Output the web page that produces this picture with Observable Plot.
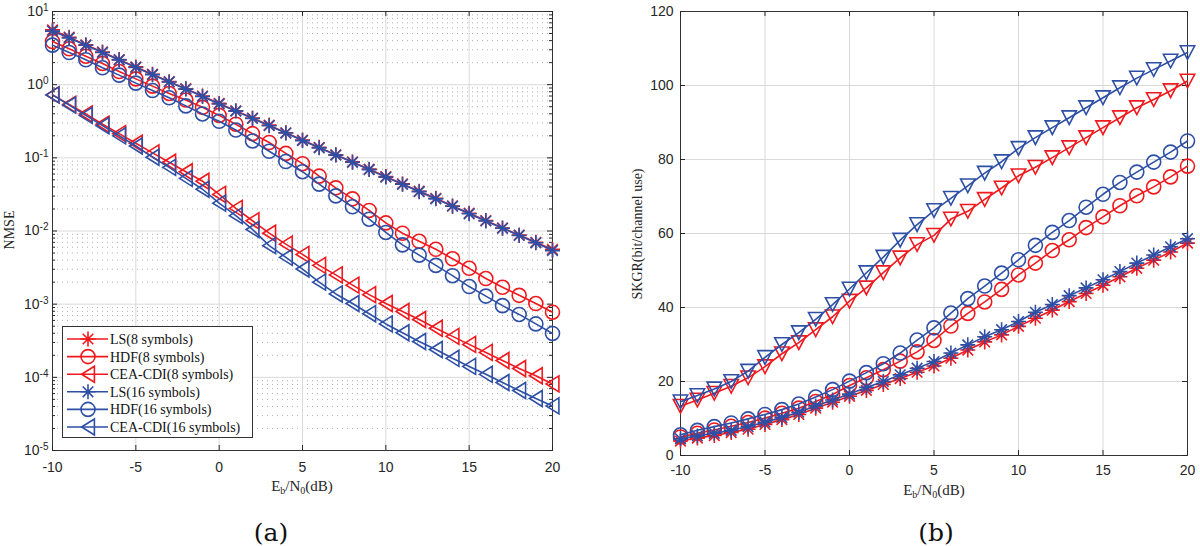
<!DOCTYPE html>
<html><head><meta charset="utf-8">
<script src="https://cdn.jsdelivr.net/npm/d3@7"></script>
<script src="https://cdn.jsdelivr.net/npm/@observablehq/plot@0.6"></script>
<style>
body{margin:0;background:#fff;}
#wrap{position:relative;width:1200px;height:546px;overflow:hidden;background:#fff;font-family:"Liberation Serif","Times New Roman",serif;color:#262626;}
.abs{position:absolute;white-space:nowrap;line-height:1;}
.xl{font-size:15px;transform:translate(-50%,-50%);}
.yl{font-size:14px;transform:translate(-50%,-50%) rotate(-90deg);}
.cap{font-family:"DejaVu Serif",serif;font-size:25px;transform:translate(-50%,-50%);color:#111;}
.xl sub{font-size:10px;vertical-align:-3px;}
</style></head><body>
<div id="wrap">
  <div id="pa" class="abs" style="left:0;top:0"></div>
  <div id="pb" class="abs" style="left:600px;top:0"></div>
  <div class="abs xl" style="left:302px;top:487px">E<sub>b</sub>/N<sub>0</sub>(dB)</div>
  <div class="abs xl" style="left:934px;top:491px">E<sub>b</sub>/N<sub>0</sub>(dB)</div>
  <div class="abs yl" style="left:10px;top:230px">NMSE</div>
  <div class="abs yl" style="left:638px;top:234px">SKGR(bit/channel use)</div>
  <div class="abs cap" style="left:271px;top:532px">(a)</div>
  <div class="abs cap" style="left:936px;top:532px">(b)</div>
</div>
<script>
// ---------------- data ----------------
const ebn0 = [-10,-9,-8,-7,-6,-5,-4,-3,-2,-1,0,1,2,3,4,5,6,7,8,9,10,11,12,13,14,15,16,17,18,19,20];
const xTicks = [-10,-5,0,5,10,15,20];
const nmseTicks = [1e-5,1e-4,1e-3,1e-2,1e-1,1,10];
const skgrTicks = [0,20,40,60,80,100,120];
const seriesLabels = ["LS(8 symbols)","HDF(8 symbols)","CEA-CDI(8 symbols)","LS(16 symbols)","HDF(16 symbols)","CEA-CDI(16 symbols)"];

// (a) NMSE
const nmseLS8 = [5.6,4.45,3.5,2.8,2.2,1.75,1.39,1.1,0.88,0.70,0.555,0.44,0.35,0.28,0.22,0.175,0.139,0.11,0.088,0.07,0.0555,0.044,0.035,0.028,0.022,0.0175,0.0139,0.011,0.0088,0.007,0.0056];
const nmseHDF8 = [3.89,3.09,2.45,1.95,1.51,1.20,0.955,0.759,0.617,0.490,0.380,0.288,0.214,0.162,0.115,0.0832,0.0562,0.0389,0.0275,0.0191,0.0129,0.00933,0.00724,0.00562,0.00417,0.00309,0.00224,0.00170,0.00132,0.00102,0.000776];
const nmseCEA8 = [0.724,0.537,0.398,0.288,0.214,0.158,0.117,0.0871,0.0646,0.0479,0.0316,0.0204,0.0138,0.00933,0.00661,0.00479,0.00339,0.00251,0.00182,0.00135,0.00102,0.000794,0.000617,0.000468,0.000363,0.000282,0.000219,0.000170,0.000132,0.000105,0.0000813];
const nmseLS16 = [5.4,4.35,3.45,2.75,2.18,1.72,1.37,1.09,0.87,0.69,0.545,0.435,0.345,0.275,0.218,0.172,0.137,0.109,0.087,0.069,0.0545,0.0435,0.0345,0.0275,0.0218,0.0172,0.0137,0.0109,0.0087,0.0069,0.0054];
const nmseHDF16 = [3.47,2.75,2.19,1.70,1.35,1.05,0.832,0.661,0.513,0.398,0.316,0.240,0.170,0.123,0.0891,0.0646,0.0437,0.0302,0.0214,0.0145,0.00955,0.00646,0.00468,0.00339,0.00245,0.00174,0.00129,0.000955,0.000724,0.000537,0.000398];
const nmseCEA16 = [0.724,0.525,0.380,0.275,0.200,0.145,0.102,0.0741,0.0525,0.0372,0.0240,0.0162,0.0105,0.00631,0.00437,0.00302,0.00200,0.00138,0.00102,0.000741,0.000537,0.000407,0.000309,0.000240,0.000182,0.000141,0.000110,0.0000851,0.0000661,0.0000513,0.0000407];

// (b) SKGR
const skgrLS8 = [3.9,4.7,5.4,6.2,7.1,8.4,9.7,11.1,12.8,14.4,16.0,17.6,19.2,20.8,22.5,24.2,26.3,28.5,30.7,32.6,34.9,37.1,39.3,41.6,43.8,46.0,48.3,50.6,52.8,55.0,57.4];
const skgrHDF8 = [5.0,6.0,6.9,7.9,8.9,10.1,11.4,12.8,14.6,16.5,18.9,21.0,23.2,25.5,28.0,31.1,35.0,38.4,41.5,44.9,48.8,52.0,55.4,58.3,61.6,64.5,67.5,70.2,72.6,75.3,78.2];
const skgrCEA8 = [13.3,15.0,16.8,18.7,21.0,24.0,27.5,30.5,34.0,37.5,41.7,45.3,49.4,53.4,57.0,59.5,63.9,66.0,69.2,72.3,75.6,77.9,80.5,83.2,85.9,88.6,91.3,94.0,96.2,98.6,101.2];
const skgrLS16 = [4.5,5.3,6.0,6.8,7.8,9.0,10.3,11.7,13.4,15.0,16.6,18.4,20.0,21.8,23.6,25.4,27.7,29.9,32.1,34.0,36.2,38.7,40.8,43.2,45.3,47.5,49.7,52.0,54.2,56.4,58.6];
const skgrHDF16 = [5.6,6.8,7.8,8.8,9.9,11.1,12.4,13.9,15.8,17.8,20.1,22.4,24.8,27.7,31.2,34.5,38.5,42.4,45.8,49.3,52.9,56.8,60.3,63.5,67.1,70.6,73.8,76.6,79.3,82.0,85.0];
const skgrCEA16 = [14.5,16.2,18.0,20.0,22.8,26.5,30.0,33.2,36.8,40.8,45.0,49.4,53.6,58.2,62.4,66.2,69.5,72.9,76.3,79.4,83.0,85.9,88.6,91.3,94.0,96.7,99.4,102.0,104.3,106.6,108.9];

// ---------------- style ----------------
const RED = "#f0191e", BLUE = "#2d4fa5";
const R_STAR = 7.5, R_CIRC = 7, R_TRI = 8;
const SW = 1.6;

// custom MATLAB-like markers
const asterisk = {draw(c, size){ const r = Math.sqrt(size/Math.PI), d = r*Math.SQRT1_2;
  c.moveTo(-r,0); c.lineTo(r,0); c.moveTo(0,-r); c.lineTo(0,r);
  c.moveTo(-d,-d); c.lineTo(d,d); c.moveTo(-d,d); c.lineTo(d,-d); }};
const leftTri = {draw(c, size){ const r = Math.sqrt(size/Math.PI);
  c.moveTo(-0.8*r,0); c.lineTo(0.8*r,-r); c.lineTo(0.8*r,r); c.closePath(); }};
const downTri = {draw(c, size){ const r = Math.sqrt(size/Math.PI);
  c.moveTo(-0.9*r,-0.85*r); c.lineTo(0.9*r,-0.85*r); c.lineTo(0,0.85*r); c.closePath(); }};
const circ = d3.symbolCircle;

function rows(ys){ return ebn0.map((x,i)=>({x, y: ys[i]})); }

function seriesMarks(ys, color, symbol, r){
  const d = rows(ys);
  return [
    Plot.line(d, {x:"x", y:"y", stroke: color, strokeWidth: SW}),
    Plot.dot(d, {x:"x", y:"y", stroke: color, fill: "none", strokeWidth: SW, symbol, r})
  ];
}

function tickMarks(W, H, xt, yt, yMinor){
  const m = [
    Plot.ruleX(xt, {stroke:"#262626", insetTop: H-5}),
    Plot.ruleX(xt, {stroke:"#262626", insetBottom: H-5}),
    Plot.ruleY(yt, {stroke:"#262626", insetRight: W-5}),
    Plot.ruleY(yt, {stroke:"#262626", insetLeft: W-5})
  ];
  if (yMinor) {
    m.push(Plot.ruleY(yMinor, {stroke:"#262626", insetRight: W-3}));
    m.push(Plot.ruleY(yMinor, {stroke:"#262626", insetLeft: W-3}));
  }
  return m;
}

// ---------------- panel (a) ----------------
const nmseMinor = [];
for (const dec of nmseTicks.slice(0,-1)) for (const k of [2,3,4,5,6,7,8,9]) nmseMinor.push(k*dec);

const A = {w:600, h:480, ml:52, mr:48, mt:11, mb:30};
const aW = A.w-A.ml-A.mr, aH = A.h-A.mt-A.mb;
const plotA = Plot.plot({
  width: A.w, height: A.h,
  marginLeft: A.ml, marginRight: A.mr, marginTop: A.mt, marginBottom: A.mb,
  style: {fontFamily: "'Liberation Sans', Arial, sans-serif", fontSize: "14px", color: "#262626", background: "transparent", overflow: "visible"},
  x: {domain: [-10, 20]},
  y: {type: "log", domain: [1e-5, 10]},
  marks: [
    Plot.ruleY(nmseMinor, {stroke: "#b0b0b0", strokeDasharray: "1,4"}),
    Plot.gridY(nmseTicks, {stroke: "#d9d9d9", strokeOpacity: 1}),
    Plot.gridX(xTicks, {stroke: "#d9d9d9", strokeOpacity: 1}),
    Plot.frame({stroke: "#333"}),
    ...tickMarks(aW, aH, xTicks, nmseTicks, nmseMinor),
    Plot.axisX(xTicks, {tickSize: 0, tickPadding: 12, tickFormat: d => String(d), label: null}),
    Plot.axisY(nmseTicks, {tickSize: 0, tickPadding: 4, tickFormat: d => "10^" + Math.round(Math.log10(d)), label: null}),
    ...seriesMarks(nmseLS8, RED, asterisk, R_STAR),
    ...seriesMarks(nmseHDF8, RED, circ, R_CIRC),
    ...seriesMarks(nmseCEA8, RED, leftTri, R_TRI),
    ...seriesMarks(nmseLS16, BLUE, asterisk, R_STAR),
    ...seriesMarks(nmseHDF16, BLUE, circ, R_CIRC),
    ...seriesMarks(nmseCEA16, BLUE, leftTri, R_TRI)
  ]
});
document.getElementById("pa").appendChild(plotA);

// superscript exponents on the log axis
plotA.querySelectorAll('g[aria-label="y-axis tick label"] text').forEach(t => {
  const parts = t.textContent.split("^");
  if (parts.length !== 2) return;
  t.textContent = parts[0];
  const ts = document.createElementNS("http://www.w3.org/2000/svg", "tspan");
  ts.setAttribute("dy", "-0.5em");
  ts.setAttribute("font-size", "10px");
  ts.textContent = parts[1];
  t.appendChild(ts);
});

// ---------------- panel (b) ----------------
const B = {w:600, h:485, ml:80, mr:13, mt:11, mb:30};
const bW = B.w-B.ml-B.mr, bH = B.h-B.mt-B.mb;
const plotB = Plot.plot({
  width: B.w, height: B.h,
  marginLeft: B.ml, marginRight: B.mr, marginTop: B.mt, marginBottom: B.mb,
  style: {fontFamily: "'Liberation Sans', Arial, sans-serif", fontSize: "14px", color: "#262626", background: "transparent", overflow: "visible"},
  x: {domain: [-10, 20]},
  y: {domain: [0, 120]},
  marks: [
    Plot.gridY(skgrTicks, {stroke: "#d9d9d9", strokeOpacity: 1}),
    Plot.gridX(xTicks, {stroke: "#d9d9d9", strokeOpacity: 1}),
    Plot.frame({stroke: "#333"}),
    ...tickMarks(bW, bH, xTicks, skgrTicks, null),
    Plot.axisX(xTicks, {tickSize: 0, tickPadding: 10, tickFormat: d => String(d), label: null}),
    Plot.axisY(skgrTicks, {tickSize: 0, tickPadding: 7, tickFormat: d => String(d), label: null}),
    ...seriesMarks(skgrLS8, RED, asterisk, R_STAR),
    ...seriesMarks(skgrHDF8, RED, circ, R_CIRC),
    ...seriesMarks(skgrCEA8, RED, downTri, R_TRI),
    ...seriesMarks(skgrLS16, BLUE, asterisk, R_STAR),
    ...seriesMarks(skgrHDF16, BLUE, circ, R_CIRC),
    ...seriesMarks(skgrCEA16, BLUE, downTri, R_TRI)
  ]
});
document.getElementById("pb").appendChild(plotB);

// ---------------- legend (panel a) ----------------
const legendColors = [RED, RED, RED, BLUE, BLUE, BLUE];
const legendSymbols = [asterisk, circ, leftTri, asterisk, circ, leftTri];
const legendR = [R_STAR, R_CIRC, R_TRI, R_STAR, R_CIRC, R_TRI];
const lg = d3.select("#wrap").append("svg")
  .attr("class", "abs").style("left", "62px").style("top", "326px")
  .attr("width", 192).attr("height", 113);
lg.append("rect").attr("x", 0.5).attr("y", 0.5).attr("width", 190).attr("height", 111)
  .attr("fill", "#fff").attr("stroke", "#333");
seriesLabels.forEach((lab, i) => {
  const y = 13 + i * 17.6;
  const g = lg.append("g");
  g.append("line").attr("x1", 5).attr("x2", 46).attr("y1", y).attr("y2", y)
    .attr("stroke", legendColors[i]).attr("stroke-width", SW);
  g.append("path").attr("d", d3.symbol(legendSymbols[i], Math.PI * legendR[i] * legendR[i])())
    .attr("transform", `translate(26,${y})`)
    .attr("fill", "none").attr("stroke", legendColors[i]).attr("stroke-width", SW);
  g.append("text").attr("x", 48).attr("y", y).attr("dy", "0.35em")
    .attr("font-family", "'Liberation Serif','Times New Roman',serif").attr("font-size", 14)
    .attr("fill", "#111").text(lab);
});
</script>
</body></html>
